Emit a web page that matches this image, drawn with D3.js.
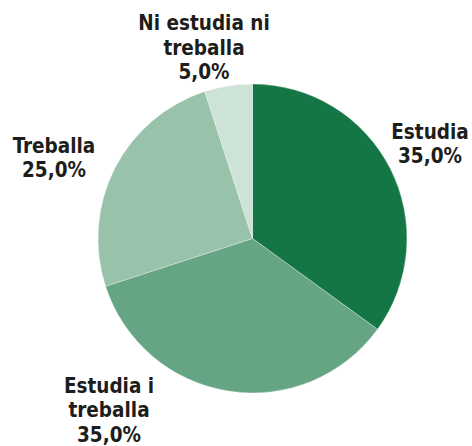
<!DOCTYPE html>
<html>
<head>
<meta charset="utf-8">
<script src="https://cdn.jsdelivr.net/npm/d3@7"></script>
<style>
  body { margin: 0; background: #fff; }
  svg text { font-family: "DejaVu Sans Condensed", "DejaVu Sans", Verdana, sans-serif; font-stretch: condensed; font-weight: bold; fill: #1d1d1b; }
</style>
</head>
<body>
<div id="chart"></div>
<script>
'use strict';

// data
var categories = ['Estudia', 'Estudia i treballa', 'Treballa', 'Ni estudia ni treballa'];
var values = [35, 35, 25, 5];
var labelLines = [['Estudia'], ['Estudia i', 'treballa'], ['Treballa'], ['Ni estudia ni', 'treballa']];
var colors = ['#147645', '#66a584', '#98c2aa', '#cde3d7'];

var width = 472, height = 446;
var cx = 252.5, cy = 238.5, radius = 154.5;

// where each label block is centred (x) and where its first baseline sits (y)
var labelAnchor = {
	'Estudia': [430, 138.5],
	'Estudia i treballa': [109, 392.5],
	'Treballa': [54, 152.5],
	'Ni estudia ni treballa': [204, 30]
};
var lineH = 24.5;

var svg = d3.select('#chart').append('svg')
	.attr('width', width)
	.attr('height', height);

var data = categories.map(function(c, i) {
	return {name: c, value: values[i], lines: labelLines[i], color: colors[i]};
});

var pie = d3.pie()
	.sort(null)
	.value(function(d) { return d.value; });

var arc = d3.arc()
	.innerRadius(0)
	.outerRadius(radius);

var g = svg.append('g')
	.attr('transform', 'translate(' + cx + ',' + cy + ')');

g.selectAll('path')
	.data(pie(data))
	.enter()
	.append('path')
	.attr('d', arc)
	.style('fill', function(d) { return d.data.color; })
	.style('stroke', '#ffffff')
	.style('stroke-width', 0.6)
	.style('stroke-opacity', 0.5);

var fmt = function(v) {
	return d3.format('.1f')(v).replace('.', ',') + '%';
};

var labels = svg.selectAll('text.lbl')
	.data(data)
	.enter()
	.append('text')
	.attr('class', 'lbl')
	.attr('text-anchor', 'middle')
	.style('font-size', '20.5px');

labels.each(function(d) {
	var pos = labelAnchor[d.name];
	var t = d3.select(this);
	var lines = d.lines.concat([fmt(d.value)]);
	lines.forEach(function(l, i) {
		t.append('tspan')
			.attr('x', pos[0])
			.attr('y', pos[1] + i * lineH)
			.text(l);
	});
});
</script>
</body>
</html>
